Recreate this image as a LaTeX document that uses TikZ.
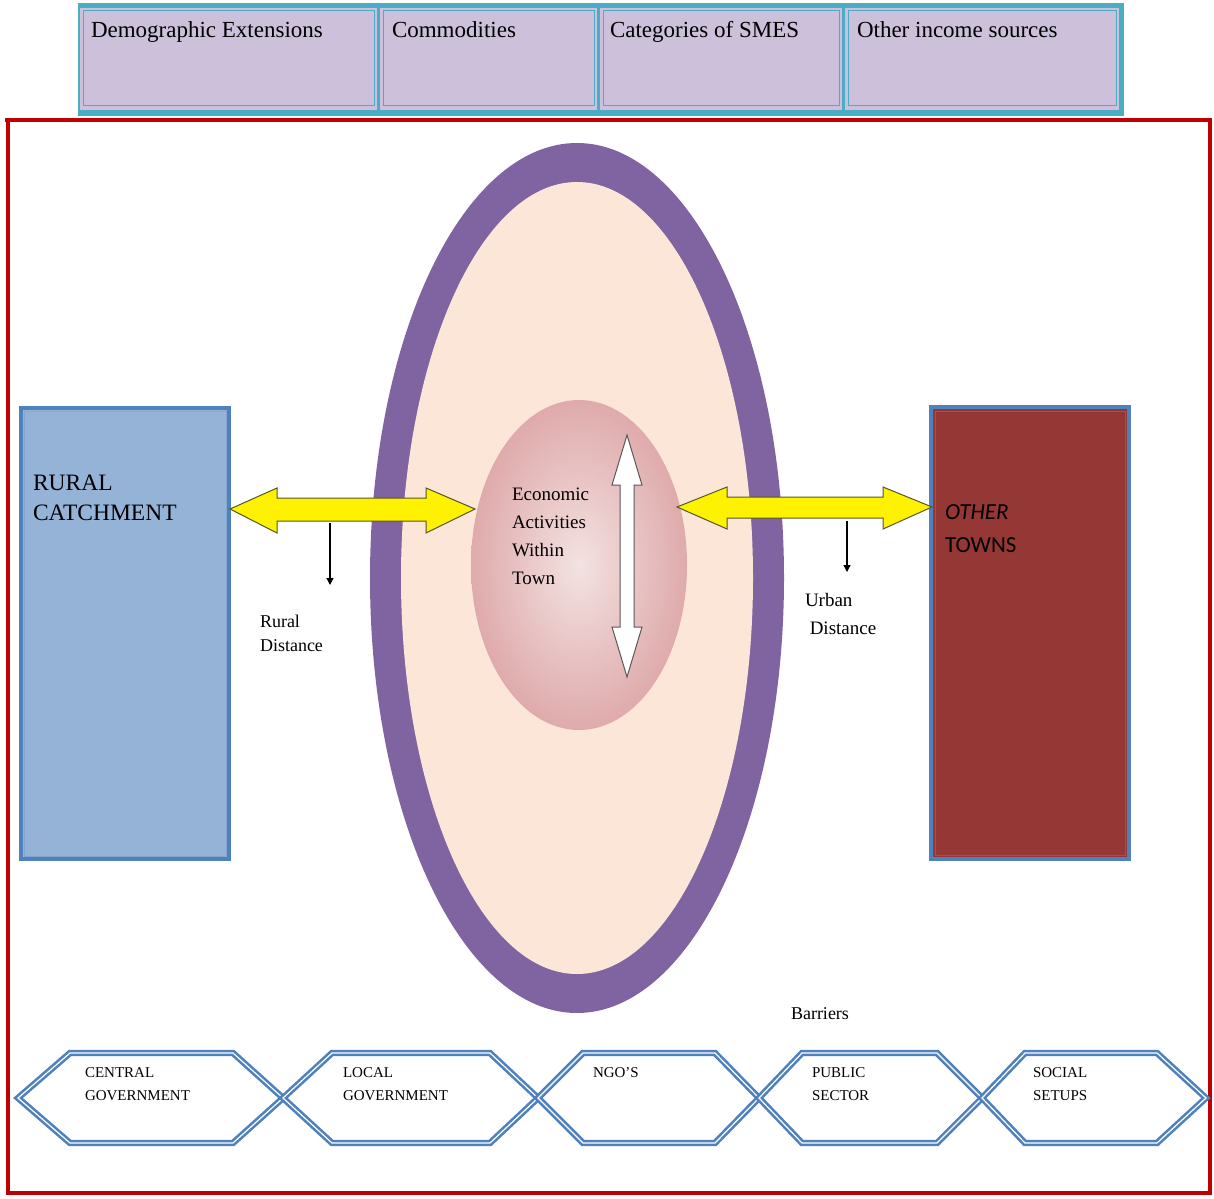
\documentclass[tikz,border=0pt]{standalone}
\usepackage{fontspec}
\setmainfont{Liberation Serif}
\newfontfamily\calib{Carlito}
\usetikzlibrary{arrows.meta,shapes.geometric,calc}
\definecolor{cyanb}{HTML}{4BACC6}
\definecolor{lav}{HTML}{CCC0DA}
\definecolor{framered}{HTML}{C00000}
\definecolor{ringpurple}{HTML}{8064A2}
\definecolor{peach}{HTML}{FCE6D8}
\definecolor{bblue}{HTML}{4F81BD}
\definecolor{rfill}{HTML}{95B3D7}
\definecolor{ofill}{HTML}{953735}
\definecolor{eggin}{HTML}{F3E2E2}
\definecolor{eggout}{HTML}{DFAAAB}
\definecolor{arrline}{HTML}{55552A}
\newcommand{\mylines}[1]{\begin{tabular}[t]{@{}l@{}}#1\end{tabular}}
\tikzset{
  lbl/.style={anchor=base west, inner sep=0pt, outer sep=0pt},
  topbox/.style={fill=lav, draw=none},
  hexline/.style={draw=bblue, line width=2.6pt, double=white, double distance=1.2pt, line join=miter},
  yarrow/.style={fill=yellow, draw=arrline, line width=1pt, line join=miter},
  warrow/.style={fill=white, draw=black!65, line width=1pt, line join=miter},
  thinarrow/.style={draw=black, line width=1.2pt, -{Triangle[length=7pt,width=7pt]}},
}
\begin{document}
\begin{tikzpicture}[x=1pt,y=-1pt]
\useasboundingbox (0,0) rectangle (1214,1198);
% top bar
\fill[cyanb] (78,3) rectangle (1124,116);
\foreach \a/\b in {80/377,380/597,600/842,845/1119}{
  \fill[lav] (\a,8) rectangle (\b,110);
  \draw[cyanb, line width=1pt] (\a+3,11) rectangle (\b-3,106);
}
\node[lbl] (t1) at (91,38) {\fontsize{23}{26}\selectfont Demographic Extensions};
\node[lbl] (t2) at (392,38) {\fontsize{23}{26}\selectfont Commodities};
\node[lbl] (t3) at (610,38) {\fontsize{23}{26}\selectfont Categories of SMES};
\node[lbl] (t4) at (857,38) {\fontsize{23}{26}\selectfont Other income sources};
% red frame
\draw[framered, line width=4pt, line join=miter] (5,120) -- (1210,120) -- (1210,1193) -- (8,1193) -- (8,120);
% town ellipse
\node[ellipse, fill=ringpurple, minimum width=414pt, minimum height=870pt, inner sep=0pt] (town) at (577,578) {};
\node[ellipse, fill=peach, minimum width=352pt, minimum height=792pt, inner sep=0pt] (towninner) at (577,578) {};
% egg
\node[ellipse, shade, inner color=eggin, outer color=eggout, minimum width=216pt, minimum height=330pt, inner sep=0pt] (egg) at (579,565) {};
\node[lbl] (eco) at (512,500) {\fontsize{19}{28}\selectfont\mylines{Economic\\Activities\\Within\\Town}};
% white vertical arrow
\draw[warrow] (627,435) -- (642,485) -- (634,485) -- (634,627) -- (642,627) -- (627,677) -- (612,627) -- (620,627) -- (620,485) -- (612,485) -- cycle;
% rural box
\node[rectangle, fill=rfill, draw=bblue, line width=4pt, minimum width=208pt, minimum height=451pt, inner sep=0pt] (rural) at (125,633.5) {};
\draw[bblue!70, line width=1pt] ($(rural.north west)+(5,5)$) rectangle ($(rural.south east)+(-5,-5)$);
\node[lbl] (ruraltxt) at (33,490) {\fontsize{23.5}{30}\selectfont\mylines{RURAL\\CATCHMENT}};
% other towns box
\node[rectangle, fill=ofill, draw=bblue, line width=4pt, minimum width=198pt, minimum height=452pt, inner sep=0pt] (other) at (1030,633) {};
\draw[bblue!60!ofill, line width=1pt] ($(other.north west)+(6,6)$) rectangle ($(other.south east)+(-6,-6)$);
\node[lbl] (othertxt) at (945,519) {\calib\fontsize{23}{33}\selectfont\mylines{\itshape OTHER\\TOWNS}};
% yellow arrows
\draw[yarrow] (230,509) -- (277,488) -- (277,498) -- (426,498) -- (426,488) -- (475,509) -- (426,533) -- (426,521) -- (277,521) -- (277,533) -- cycle;
\draw[yarrow] (677,507) -- (727,487) -- (727,497) -- (883,497) -- (883,487) -- (932,507) -- (883,529) -- (883,518) -- (727,518) -- (727,529) -- cycle;
% distance arrows
\coordinate (rd1) at (330,523);
\coordinate (rd2) at (330,585);
\draw[thinarrow] (rd1) -- (rd2);
\coordinate (ud1) at (847,521);
\coordinate (ud2) at (847,572);
\draw[thinarrow] (ud1) -- (ud2);
\node[lbl] (rdist) at (260,627) {\fontsize{18}{24}\selectfont\mylines{Rural\\Distance}};
\node[lbl] (udist) at (805,606) {\fontsize{19}{28}\selectfont\mylines{Urban\\\ Distance}};
\node[lbl] (barr) at (791,1019) {\fontsize{18}{24}\selectfont Barriers};
% hexagons
\foreach \l/\tl/\tr/\r in {18/70/233/283, 283/332/490/538, 538/583/715/759, 759/802/937/982, 982/1025/1157/1206}{
  \draw[hexline] (\l,1098) -- (\tl,1053) -- (\tr,1053) -- (\r,1098) -- (\tr,1143) -- (\tl,1143) -- cycle;
}
\node[lbl] (h1) at (85,1077) {\fontsize{15}{23}\selectfont\mylines{CENTRAL\\GOVERNMENT}};
\node[lbl] (h2) at (343,1077) {\fontsize{15}{23}\selectfont\mylines{LOCAL\\GOVERNMENT}};
\node[lbl] (h3) at (593,1077) {\fontsize{15}{23}\selectfont NGO'S};
\node[lbl] (h4) at (812,1077) {\fontsize{15}{23}\selectfont\mylines{PUBLIC\\SECTOR}};
\node[lbl] (h5) at (1033,1077) {\fontsize{15}{23}\selectfont\mylines{SOCIAL\\SETUPS}};
\end{tikzpicture}
\end{document}
